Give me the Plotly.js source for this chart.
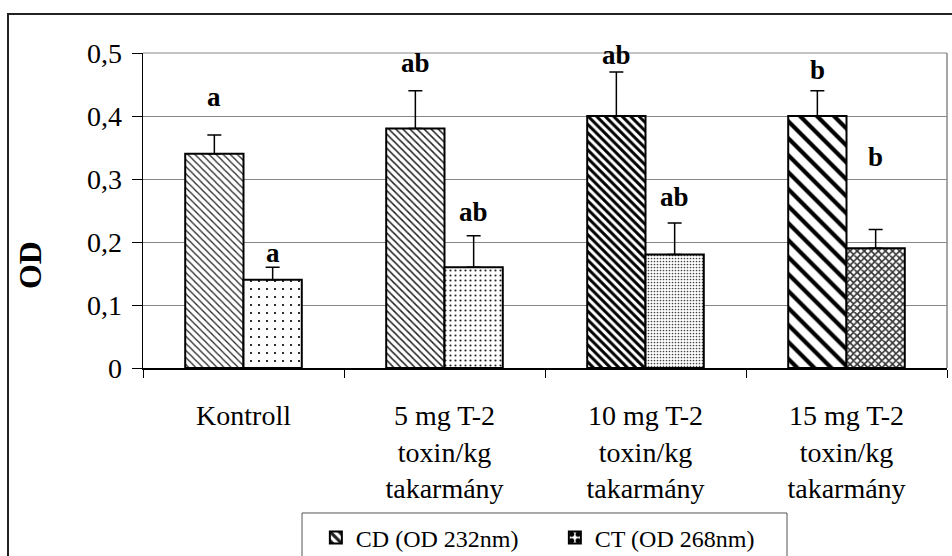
<!DOCTYPE html>
<html>
<head>
<meta charset="utf-8">
<script src="https://cdn.plot.ly/plotly-3.0.1.min.js"></script>
<style>
  html, body { margin: 0; padding: 0; background: #fff; }
  #chart { width: 952px; height: 556px; }
</style>
</head>
<body>
<div id="chart"></div>
<script>
// ---- data ----
const categories = [
  "Kontroll",
  "5 mg T-2<br>toxin/kg<br>takarmány",
  "10 mg T-2<br>toxin/kg<br>takarmány",
  "15 mg T-2<br>toxin/kg<br>takarmány"
];
const cdName = "CD (OD 232nm)";
const ctName = "CT (OD 268nm)";
const cdValues = [0.34, 0.38, 0.40, 0.40];
const cdErrors = [0.03, 0.06, 0.07, 0.04];
const ctValues = [0.14, 0.16, 0.18, 0.19];
const ctErrors = [0.02, 0.05, 0.05, 0.03];
const cdLetters = ["a", "ab", "ab", "b"];
const ctLetters = ["a", "ab", "ab", "b"];
const cdLetterY = [0.430, 0.484, 0.497, 0.473];
const ctLetterY = [0.183, 0.248, 0.271, 0.335];
const yTickVals = [0, 0.1, 0.2, 0.3, 0.4, 0.5];

// ---- styling ----
const FONT = "Liberation Serif";
const zeros = cdValues.map(() => 0);

const cdTrace = {
  type: "bar", name: cdName, x: categories, y: cdValues,
  marker: {
    color: "white",
    line: { color: "black", width: 2 },
    pattern: {
      shape: ["\\", "\\", "\\", "\\"],
      size: [5, 5, 6, 12],
      solidity: [0.25, 0.3, 0.5, 0.35],
      fgcolor: ["#222", "#222", "black", "black"],
      bgcolor: "white",
      fillmode: "replace"
    }
  },
  error_y: { type: "data", symmetric: false, array: cdErrors, arrayminus: zeros,
             color: "black", thickness: 1.5, width: 7 },
  hoverinfo: "skip"
};
const ctTrace = {
  type: "bar", name: ctName, x: categories, y: ctValues,
  marker: {
    color: "white",
    line: { color: "black", width: 2 },
    pattern: {
      shape: [".", ".", ".", "x"],
      size: [8, 5, 3, 5],
      solidity: [0.06, 0.15, 0.25, 0.55],
      fgcolor: ["black", "#222", "#444", "#333"],
      bgcolor: "white",
      fillmode: "replace"
    }
  },
  error_y: { type: "data", symmetric: false, array: ctErrors, arrayminus: zeros,
             color: "black", thickness: 1.5, width: 7 },
  hoverinfo: "skip"
};

// bar half-offset within a group, in category units (group width = 1 - bargap)
const BARGAP = 0.42;
const half = (1 - BARGAP) / 4;

const annotations = [];
cdLetters.forEach((t, i) => annotations.push({
  x: i - half, y: cdLetterY[i], xref: "x", yref: "y", text: "<b>" + t + "</b>",
  showarrow: false, xanchor: "center", yanchor: "middle",
  font: { family: FONT, size: 27, color: "black" }
}));
ctLetters.forEach((t, i) => annotations.push({
  x: i + half, y: ctLetterY[i], xref: "x", yref: "y", text: "<b>" + t + "</b>",
  showarrow: false, xanchor: "center", yanchor: "middle",
  font: { family: FONT, size: 27, color: "black" }
}));
annotations.push({
  x: -0.1405, y: 0.327, xref: "paper", yref: "paper", text: "<b>OD</b>",
  textangle: -90, showarrow: false, xanchor: "center", yanchor: "middle",
  font: { family: FONT, size: 32, color: "black" }
});

const layout = {
  width: 952, height: 556,
  margin: { l: 143, r: 5, t: 53, b: 188, autoexpand: false },
  paper_bgcolor: "white", plot_bgcolor: "white",
  separators: ",.",
  font: { family: FONT, size: 28, color: "black" },
  barmode: "group", bargap: BARGAP, bargroupgap: 0,
  showlegend: true,
  legend: {
    orientation: "h", x: 0.215, xanchor: "left", y: -0.468, yanchor: "top",
    bgcolor: "rgba(0,0,0,0)", borderwidth: 0,
    font: { family: FONT, size: 24, color: "black" },
    entrywidth: 194, entrywidthmode: "pixels", itemclick: false
  },
  xaxis: {
    type: "category", showline: true, linecolor: "black", linewidth: 1.5,
    ticks: "outside", tickson: "boundaries", ticklen: 8, tickcolor: "black", tickwidth: 1,
    showgrid: false, zeroline: false, tickangle: 0, ticklabelstandoff: 22,
    tickfont: { family: FONT, size: 28, color: "black" }, fixedrange: true
  },
  yaxis: {
    range: [0, 0.5], tickvals: yTickVals, showline: true, linecolor: "black", linewidth: 1.5,
    ticks: "outside", ticklen: 10, tickcolor: "black", tickwidth: 1,
    showgrid: true, gridcolor: "#888", gridwidth: 1, zeroline: false,
    tickfont: { family: FONT, size: 28, color: "black" }, ticklabelstandoff: 4, fixedrange: true
  },
  annotations: annotations,
  shapes: [
    // outer chart frame
    { type: "rect", xref: "paper", yref: "paper", x0: -0.1679, x1: 1.5, y0: -1, y1: 1.1238,
      line: { color: "#222", width: 2 }, fillcolor: "rgba(0,0,0,0)", layer: "below" },
    // plot area top & right edge
    { type: "line", xref: "paper", yref: "paper", x0: 0, x1: 1, y0: 1, y1: 1,
      line: { color: "#888", width: 1 } },
    { type: "line", xref: "paper", yref: "paper", x0: 1, x1: 1, y0: 0, y1: 1,
      line: { color: "#888", width: 1.5 } },
    // legend box
    { type: "rect", xref: "paper", yref: "paper", x0: 0.1978, x1: 0.801, y0: -1, y1: -0.4603,
      line: { color: "#555", width: 1 }, fillcolor: "rgba(0,0,0,0)" }
  ]
};

Plotly.newPlot("chart", [cdTrace, ctTrace], layout, { displayModeBar: false, staticPlot: true });
</script>
</body>
</html>
